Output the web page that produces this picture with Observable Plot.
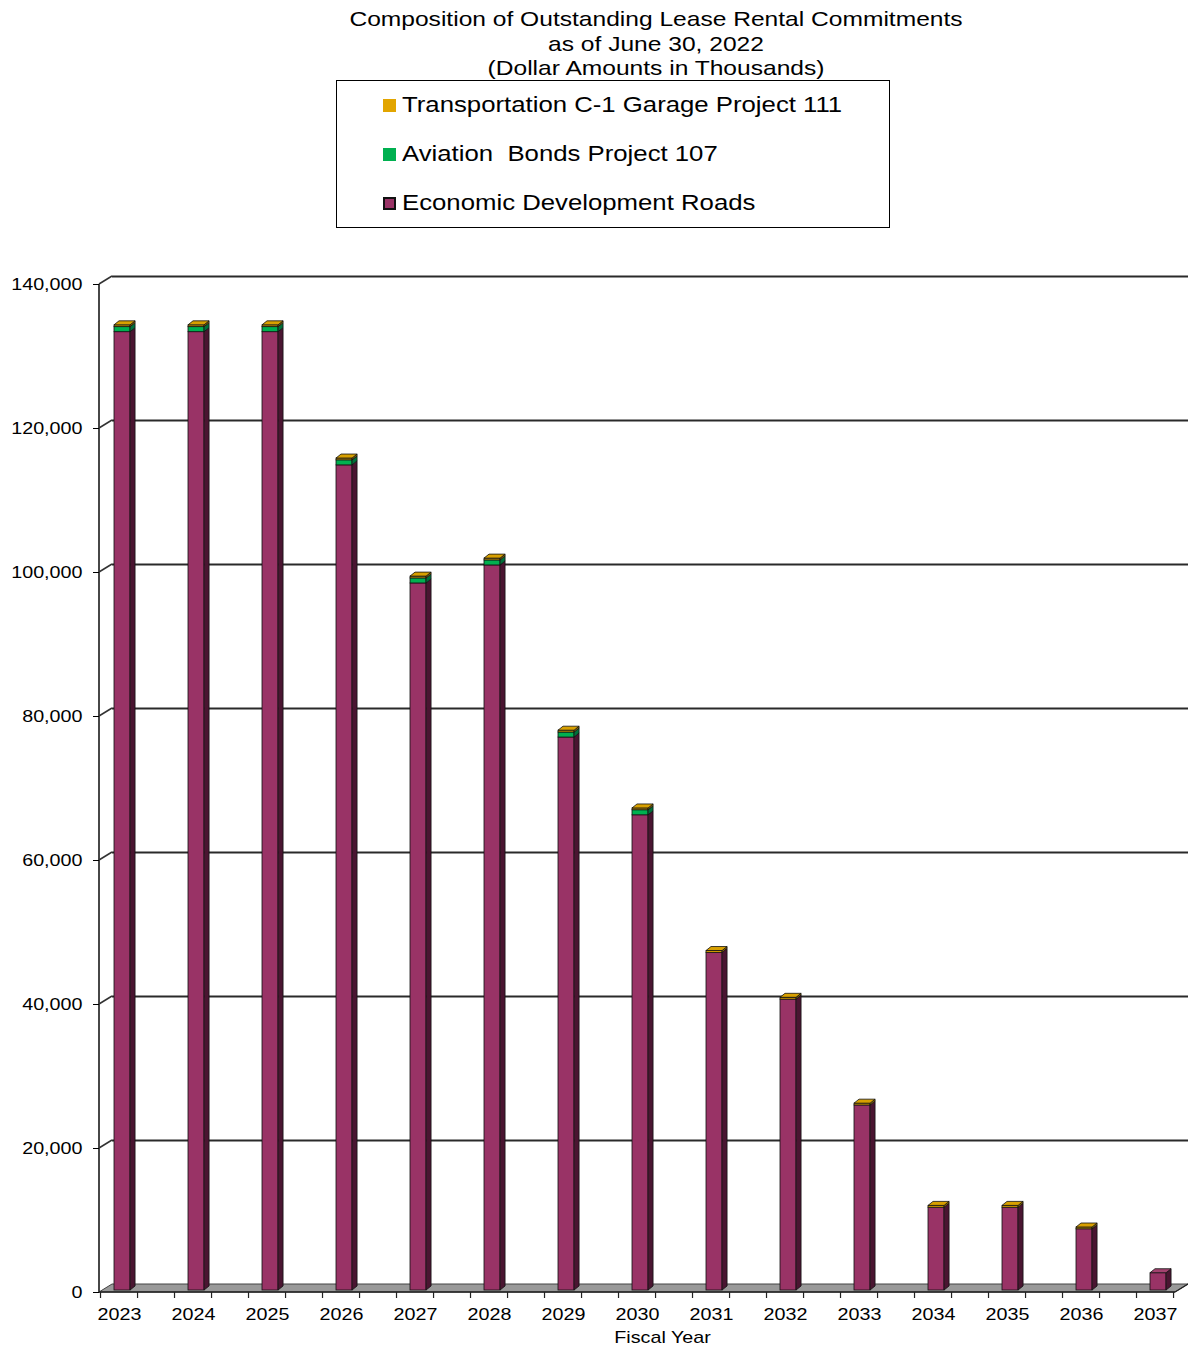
<!DOCTYPE html>
<html><head><meta charset="utf-8">
<script src="https://cdn.jsdelivr.net/npm/d3@7"></script>
<script src="https://cdn.jsdelivr.net/npm/@observablehq/plot@0.6"></script>
<style>
body{margin:0;background:#fff;}
#wrap{position:relative;width:1188px;height:1347px;font-family:"Liberation Sans",Arial,sans-serif;color:#000;}
#title{position:absolute;left:656px;top:7px;transform:translateX(-50%) scaleX(1.17);text-align:center;white-space:nowrap;font-size:21px;line-height:24.5px;}
#legend{position:absolute;left:336px;top:80px;width:554px;height:148px;box-sizing:border-box;border:1px solid #000;background:#fff;}
.item{position:absolute;left:46px;height:26px;display:flex;align-items:center;font-size:22px;white-space:pre;}
.item span{display:inline-block;transform:scaleX(1.17);transform-origin:left center;}
.sw{width:13px;height:13px;margin-right:6px;box-sizing:border-box;}
#chart{position:absolute;left:0;top:0;}
</style></head>
<body><div id="wrap"><div id="chart"></div>
<div id="title">Composition of Outstanding Lease Rental Commitments<br>as of June 30, 2022<br>(Dollar Amounts in Thousands)</div>
<div id="legend"></div></div>
<script>
const years = ["2023","2024","2025","2026","2027","2028","2029","2030","2031","2032","2033","2034","2035","2036","2037"];
const econ = [133100,133100,133100,114600,98200,100700,76800,66000,46900,40400,25700,11500,11500,8500,2400];
const aviation = [700,700,700,700,700,700,700,700,0,0,0,0,0,0,0];
const transport = [250,250,250,250,250,250,250,250,250,250,250,250,250,250,0];
const seriesNames = ["Economic Development Roads","Aviation  Bonds Project 107","Transportation C-1 Garage Project 111"];
const seriesColors = ["#993366","#00b050","#e2a500"];
const sideColors = ["#4a1531","#00703a","#9c7200"];
const topColors = ["#a3426f","#2fbf6c","#d8a000"];
const yTicks = [0,20000,40000,60000,80000,100000,120000,140000];

// legend (top to bottom: reversed stack order)
const legend = d3.select("#legend");
[2,1,0].forEach((k,i)=>{
  const it = legend.append("div").attr("class","item").style("top",(11+i*49)+"px");
  it.append("div").attr("class","sw").style("background",seriesColors[k]).style("border",k===0?"2px solid #111":"none");
  it.append("span").text(seriesNames[k]);
});

const segs = [];
years.forEach((yr,i)=>{
  let base=0;
  [econ,aviation,transport].forEach((arr,k)=>{
    const v=arr[i];
    if(v>0){segs.push({year:yr,series:seriesNames[k],k,y1:base,y2:base+v});base+=v;}
  });
});
const tops = new Set();
years.forEach(yr=>{const s=segs.filter(d=>d.year===yr);tops.add(s[s.length-1]);});

const IL=32, IR=26, BDX=5, BDY=4, BSHIFT=-2, WDX=13, WDY=-8;
const plot = Plot.plot({
  width:1188,height:1347,marginTop:284,marginBottom:55,marginLeft:99,marginRight:13,
  style:{fontFamily:'"Liberation Sans", Arial, sans-serif',fontSize:"17px",background:"transparent",overflow:"visible",color:"#000"},
  x:{domain:years,range:[81,1192],padding:0,tickSize:0,tickPadding:15,label:null},
  y:{domain:[0,140000],ticks:yTicks,tickFormat:d3.format(","),tickSize:6,tickPadding:11,label:null},
  color:{domain:seriesNames,range:seriesColors},
  marks:[
    Plot.ruleY(yTicks.filter(t=>t>0),{dx:WDX,dy:WDY,stroke:"#2a2a2a",strokeWidth:2}),
    Plot.barY(segs,{x:"year",y1:"y1",y2:"y2",fill:"series",stroke:"#111",strokeWidth:0.8,insetLeft:IL,insetRight:IR,dy:BSHIFT}),
    Plot.text(["Fiscal Year"],{frameAnchor:"bottom",lineAnchor:"middle",dx:25,dy:45,fontSize:17})
  ]
});
document.getElementById("chart").appendChild(plot);

const svg = d3.select(plot);
// widen the lettering as in the reference (horizontal stretch about each text's anchor)
svg.selectAll("text").each(function(){
  const t=d3.select(this);
  const x=+t.attr("x")||0, y=+t.attr("y")||0, tr=t.attr("transform")||"";
  t.attr("transform",`${tr} translate(${x},${y}) scale(1.16,1) translate(${-x},${-y})`);
});

const X = plot.scale("x"), Y = plot.scale("y");
const step = (X.range[1]-X.range[0])/years.length;
const fx0 = 99, fx1 = 1175, y0 = Y.apply(0), yTop = Y.apply(140000);

// walls / floor underneath
const under = svg.insert("g","g");
under.append("polygon")
  .attr("points",[[fx0,y0],[fx1,y0],[fx1+WDX,y0+WDY],[fx0+WDX,y0+WDY]].map(p=>p.join(",")).join(" "))
  .attr("fill","#999").attr("stroke","#444").attr("stroke-width",1);
yTicks.filter(t=>t>0).forEach(t=>{
  const yy=Y.apply(t);
  under.append("line").attr("x1",fx0).attr("y1",yy).attr("x2",fx0+WDX).attr("y2",yy+WDY)
    .attr("stroke","#333").attr("stroke-width",1.5);
});
under.append("line").attr("x1",fx0).attr("y1",yTop).attr("x2",fx0).attr("y2",y0)
  .attr("stroke","#333").attr("stroke-width",1.8);
under.append("line").attr("x1",fx0).attr("y1",y0).attr("x2",fx1).attr("y2",y0)
  .attr("stroke","#222").attr("stroke-width",1.5);
under.append("line").attr("x1",fx1).attr("y1",y0).attr("x2",fx1+WDX).attr("y2",y0+WDY)
  .attr("stroke","#222").attr("stroke-width",1.2);
years.forEach(yr=>{
  const b=X.apply(yr);
  [b+step/4,b+3*step/4].forEach(xx=>{
    under.append("line").attr("x1",xx).attr("y1",y0).attr("x2",xx).attr("y2",y0+6)
      .attr("stroke","#222").attr("stroke-width",1.2);
  });
});

// 3D faces of bars
const faces = svg.append("g");
const pts = a=>a.map(p=>p.join(",")).join(" ");
segs.forEach(d=>{
  const b=X.apply(d.year), xL=b+IL, xR=b+step-IR;
  const yT=Y.apply(d.y2)+BSHIFT, yB=Y.apply(d.y1)+BSHIFT;
  faces.append("polygon").attr("points",pts([[xR,yT],[xR+BDX,yT-BDY],[xR+BDX,yB-BDY],[xR,yB]]))
    .attr("fill",sideColors[d.k]).attr("stroke","#111").attr("stroke-width",0.8);
  if(tops.has(d)){
    faces.append("polygon").attr("points",pts([[xL,yT],[xL+BDX,yT-BDY],[xR+BDX,yT-BDY],[xR,yT]]))
      .attr("fill",topColors[d.k]).attr("stroke","#111").attr("stroke-width",0.8);
  }
});
</script></body></html>
